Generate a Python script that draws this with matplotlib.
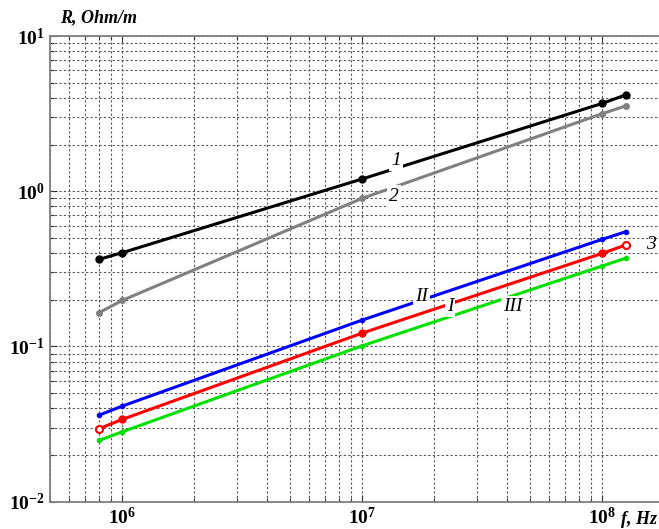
import matplotlib
matplotlib.use("Agg")
import matplotlib.pyplot as plt
from matplotlib.ticker import LogLocator, NullFormatter

# ---- data ----
freq = [8e5, 1e6, 1e7, 1e8, 1.25e8]
r_curve1 = [0.364, 0.402, 1.20, 3.68, 4.17]      # black, "1"
r_curve2 = [0.165, 0.198, 0.90, 3.16, 3.54]      # gray, "2"
r_curveII = [0.0361, 0.0413, 0.148, 0.49, 0.548]  # blue, "II"
r_curveI = [0.0295, 0.0339, 0.122, 0.398, 0.45]   # red, "I"
r_curveIII = [0.0248, 0.0282, 0.101, 0.33, 0.37]  # green, "III"

xlim = (5e5, 2e8)
ylim = (1e-2, 1e1)

serif = ["Liberation Serif", "DejaVu Serif"]

fig = plt.figure(figsize=(6.59, 5.29), dpi=100)
ax = fig.add_axes([50 / 659, 27.3 / 529, 624.5 / 659, 465.7 / 529])
ax.set_xscale("log")
ax.set_yscale("log")
ax.set_xlim(*xlim)
ax.set_ylim(*ylim)

grid_kw = dict(color="#555555", linestyle=(0, (2, 2)), linewidth=0.8)
ax.grid(True, which="both", **grid_kw)
ax.set_axisbelow(True)

lw = 2.2
ax.plot(freq, r_curve1, color="black", lw=lw, marker="o", ms=5, zorder=3)
ax.plot(freq, r_curve2, color="#808080", lw=lw, marker="o", ms=4, zorder=3)
ax.plot(freq, r_curveII, color="#0000ff", lw=lw, marker="o", ms=3, zorder=3)
ax.plot(freq, r_curveI, color="#ff0000", lw=lw, marker="o", ms=5, zorder=3)
ax.plot([freq[0], freq[-1]], [r_curveI[0], r_curveI[-1]], ls="none",
        marker="o", ms=5, mfc="white", mec="#ff0000", mew=1.5, zorder=4)
ax.plot(freq, r_curveIII, color="#00e000", lw=lw, marker="o", ms=3, zorder=3)

lab_kw = dict(family=serif, style="italic", fontsize=14, ha="center", va="center",
              zorder=5)
box = dict(facecolor="white", edgecolor="none", pad=1.5)
ax.text(1.38e7, 1.57, "1", bbox=box, **lab_kw)
ax.text(1.36e7, 0.93, "2", bbox=box, **lab_kw)
ax.text(1.76e7, 0.209, "II", bbox=box, **lab_kw)
ax.text(2.32e7, 0.182, "I", bbox=box, **lab_kw)
ax.text(4.26e7, 0.180, "III", bbox=box, **lab_kw)
ax.text(1.6e8, 0.457, "3", **lab_kw)

ax.xaxis.set_major_locator(LogLocator(base=10, numticks=10))
ax.xaxis.set_minor_locator(LogLocator(base=10, subs=range(2, 10), numticks=20))
ax.yaxis.set_major_locator(LogLocator(base=10, numticks=10))
ax.yaxis.set_minor_locator(LogLocator(base=10, subs=range(2, 10), numticks=20))
ax.xaxis.set_minor_formatter(NullFormatter())
ax.yaxis.set_minor_formatter(NullFormatter())

ax.tick_params(which="both", direction="in", top=True, right=True,
               color="#333333", width=0.8)
ax.tick_params(which="major", length=5)
ax.tick_params(which="minor", length=3)
ax.tick_params(axis="x", pad=4)
ax.tick_params(axis="y", pad=4)
for lbl in ax.get_xticklabels() + ax.get_yticklabels():
    lbl.set_family(serif)
    lbl.set_fontweight("bold")
    lbl.set_fontsize(14)

for s in ax.spines.values():
    s.set_color("#808080")
    s.set_linewidth(1.3)

fig.text(60 / 659, 1 - 18 / 529, "R, Ohm/m", family=serif, style="italic",
         fontweight="bold", fontsize=13, ha="left", va="center")
fig.text(621 / 659, 1 - 520 / 529, "f, Hz", family=serif, style="italic",
         fontweight="bold", fontsize=13, ha="left", va="center")

fig.savefig("out.png", dpi=100)
